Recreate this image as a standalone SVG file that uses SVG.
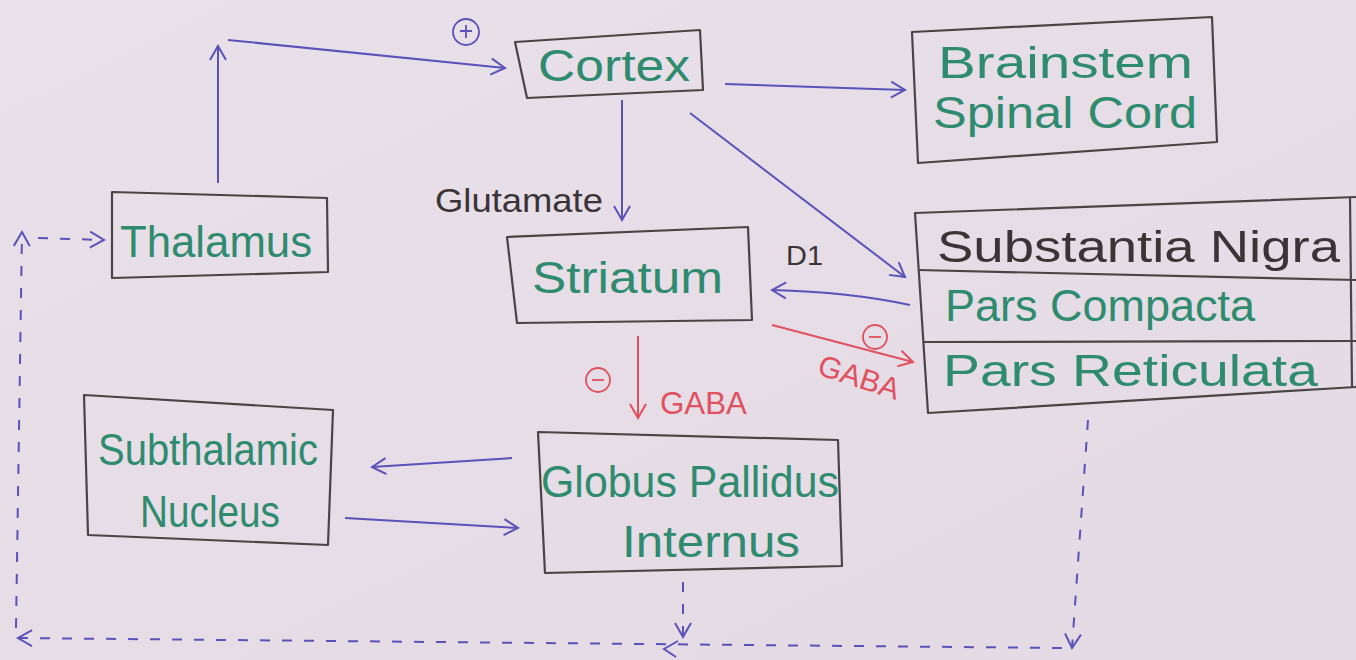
<svg xmlns="http://www.w3.org/2000/svg" width="1356" height="660" viewBox="0 0 1356 660">
<defs>
<linearGradient id="paper" x1="0" y1="0" x2="1" y2="1">
<stop offset="0" stop-color="#e9e1ea"/>
<stop offset="0.5" stop-color="#e6dde7"/>
<stop offset="1" stop-color="#e3dae4"/>
</linearGradient>
<marker id="ab" viewBox="0 0 20 20" markerWidth="20" markerHeight="20" refX="18" refY="10" orient="auto" markerUnits="userSpaceOnUse">
<path d="M4,2 L18,10 L4,18" fill="none" stroke="#5a52b8" stroke-width="2"/>
</marker>
<marker id="ar" viewBox="0 0 20 20" markerWidth="20" markerHeight="20" refX="18" refY="10" orient="auto" markerUnits="userSpaceOnUse">
<path d="M4,2 L18,10 L4,18" fill="none" stroke="#e0505e" stroke-width="2"/>
</marker>
</defs>
<style>
.box{fill:none;stroke:#4a4446;stroke-width:2.2;stroke-linejoin:round}
.g{fill:#2e8b6e;font-family:"Liberation Sans",Arial,sans-serif;font-size:44px}
.k{fill:#3a3436;font-family:"Liberation Sans",Arial,sans-serif}
.r{fill:#e0505e;font-family:"Liberation Sans",Arial,sans-serif}
.b{fill:none;stroke:#5a52b8;stroke-width:2}
.bd{fill:none;stroke:#5a52b8;stroke-width:2;stroke-dasharray:10 12}
.rl{fill:none;stroke:#e0505e;stroke-width:2}
.sym{fill:none;stroke-width:1.8}
</style>
<rect width="1356" height="660" fill="url(#paper)"/>

<g id="cortex">
<polygon class="box" points="515,42 700,30 703,90 527,98"/>
<text class="g" x="538" y="81" textLength="152" lengthAdjust="spacingAndGlyphs">Cortex</text>
</g>

<g id="brainstem">
<polygon class="box" points="912,32 1212,17 1217,142 918,163"/>
<text class="g" x="938" y="78" textLength="255" lengthAdjust="spacingAndGlyphs">Brainstem</text>
<text class="g" x="933" y="128" textLength="264" lengthAdjust="spacingAndGlyphs">Spinal Cord</text>
</g>

<g id="thalamus">
<polygon class="box" points="112,192 327,198 328,272 112,278"/>
<text class="g" x="120" y="257" textLength="192" lengthAdjust="spacingAndGlyphs">Thalamus</text>
</g>

<g id="striatum">
<polygon class="box" points="507,237 748,227 752,320 517,323"/>
<text class="g" x="532" y="293" textLength="191" lengthAdjust="spacingAndGlyphs">Striatum</text>
</g>

<g id="substantia-nigra">
<polyline class="box" points="1356,197 915,213 928,413 1356,387"/>
<line class="box" x1="918" y1="270" x2="1356" y2="280"/>
<line class="box" x1="924" y1="342" x2="1356" y2="341"/>
<line class="box" x1="1350" y1="197" x2="1352" y2="387"/>
<text class="k" x="937" y="262" font-size="44" textLength="403" lengthAdjust="spacingAndGlyphs">Substantia Nigra</text>
<text class="g" x="945" y="321" textLength="310" lengthAdjust="spacingAndGlyphs">Pars Compacta</text>
<text class="g" x="943" y="386" textLength="375" lengthAdjust="spacingAndGlyphs">Pars Reticulata</text>
</g>

<g id="subthalamic">
<polygon class="box" points="84,395 333,410 328,545 88,535"/>
<text class="g" x="98" y="465" textLength="220" lengthAdjust="spacingAndGlyphs">Subthalamic</text>
<text class="g" x="140" y="527" textLength="140" lengthAdjust="spacingAndGlyphs">Nucleus</text>
</g>

<g id="globus-pallidus">
<polygon class="box" points="538,432 838,440 842,566 545,573"/>
<text class="g" x="541" y="497" textLength="298" lengthAdjust="spacingAndGlyphs">Globus Pallidus</text>
<text class="g" x="622" y="557" textLength="178" lengthAdjust="spacingAndGlyphs">Internus</text>
</g>

<g id="connectors">
<line class="b" x1="218" y1="183" x2="218" y2="46" marker-end="url(#ab)"/>
<line class="b" x1="228" y1="40" x2="505" y2="68" marker-end="url(#ab)"/>
<circle class="sym" cx="466" cy="32" r="13" stroke="#5a52b8"/>
<path class="sym" d="M460,31 H472 M466,25 V38" stroke="#5a52b8"/>
<line class="b" x1="622" y1="100" x2="622" y2="220" marker-end="url(#ab)"/>
<text class="k" x="435" y="212" font-size="34" textLength="168" lengthAdjust="spacingAndGlyphs">Glutamate</text>
<line class="b" x1="725" y1="84" x2="905" y2="90" marker-end="url(#ab)"/>
<line class="b" x1="690" y1="113" x2="905" y2="277" marker-end="url(#ab)"/>
<path class="b" d="M910,305 Q850,292 772,290" marker-end="url(#ab)"/>
<text class="k" x="786" y="265" font-size="28" textLength="37" lengthAdjust="spacingAndGlyphs">D1</text>
<line class="rl" x1="772" y1="325" x2="913" y2="362" marker-end="url(#ar)"/>
<circle class="sym" cx="875" cy="337" r="12" stroke="#e0505e"/>
<line class="sym" x1="869" y1="337" x2="881" y2="337" stroke="#e0505e"/>
<text class="r" x="0" y="0" font-size="30" textLength="84" lengthAdjust="spacingAndGlyphs" transform="translate(816,374) rotate(18)">GABA</text>
<line class="rl" x1="638" y1="336" x2="638" y2="418" marker-end="url(#ar)"/>
<circle class="sym" cx="598" cy="380" r="12" stroke="#e0505e"/>
<line class="sym" x1="592" y1="380" x2="604" y2="380" stroke="#e0505e"/>
<text class="r" x="660" y="414" font-size="32" textLength="87" lengthAdjust="spacingAndGlyphs">GABA</text>
<line class="b" x1="512" y1="458" x2="372" y2="467" marker-end="url(#ab)"/>
<line class="b" x1="345" y1="518" x2="518" y2="528" marker-end="url(#ab)"/>
<line class="bd" x1="683" y1="582" x2="683" y2="637" marker-end="url(#ab)"/>
<line class="bd" x1="1088" y1="420" x2="1072" y2="648" marker-end="url(#ab)"/>
<line class="bd" x1="1062" y1="648" x2="18" y2="638" marker-end="url(#ab)"/>
<path class="b" d="M678,641 L664,649 L676,657"/>
<line class="bd" x1="16" y1="628" x2="22" y2="232" marker-end="url(#ab)"/>
<line class="bd" x1="38" y1="238" x2="104" y2="240" marker-end="url(#ab)"/>
</g>
</svg>
